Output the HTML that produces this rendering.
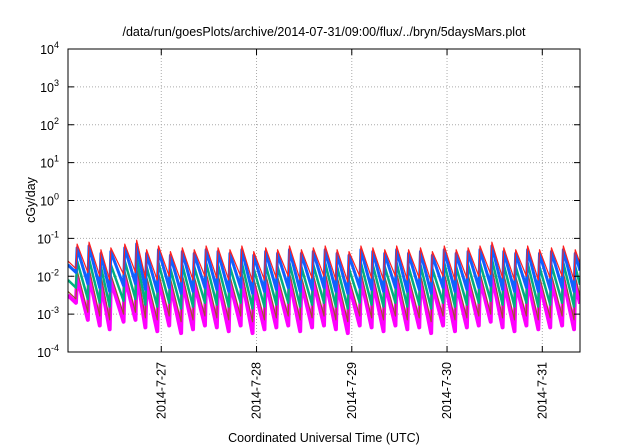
<!DOCTYPE html>
<html><head><meta charset="utf-8"><style>
body{margin:0;background:#fff;}
svg{display:block;font-family:"Liberation Sans",sans-serif;}
</style></head><body>
<svg id="chart" width="640" height="448" viewBox="0 0 640 448">
<text x="324" y="36" font-size="12.5" text-anchor="middle">/data/run/goesPlots/archive/2014-07-31/09:00/flux/../bryn/5daysMars.plot</text>
<g id="grid"></g><g id="series"></g><g id="axes"></g>
<text transform="translate(35,200) rotate(-90)" font-size="12.5" text-anchor="middle">cGy/day</text>
<text x="324" y="442" font-size="12.5" text-anchor="middle">Coordinated Universal Time (UTC)</text>
</svg>
<script>
const yDecades=[-4,-3,-2,-1,0,1,2,3,4];
const xTickDays=["2014-7-27","2014-7-28","2014-7-29","2014-7-30","2014-7-31"];
const xTickHours=[24,48,72,96,120];
const peakTimes=[2.5,5.5,8.5,11,14.5,17.5,20,23,26,29,32,35,38,41,44,47,50,53,56,59,62,65,68,71,74,77,80,83,86,89,92,95,98,101,104,107,110,113,116,119,122,125,128];
const redPeaks=[-1.15,-1.1,-1.3,-1.25,-1.15,-1.05,-1.3,-1.2,-1.35,-1.25,-1.3,-1.2,-1.25,-1.3,-1.2,-1.35,-1.25,-1.3,-1.2,-1.3,-1.25,-1.2,-1.3,-1.35,-1.2,-1.25,-1.3,-1.2,-1.3,-1.25,-1.35,-1.2,-1.3,-1.25,-1.2,-1.1,-1.25,-1.3,-1.2,-1.3,-1.25,-1.2,-1.3];
const redTroughs=[-1.9,-2.0,-2.1,-1.95,-1.9,-2.05,-2.1,-2.0,-2.15,-2.1,-2.0,-2.05,-2.1,-2.0,-2.15,-2.1,-2.05,-2.0,-2.1,-2.05,-2.0,-2.1,-2.15,-2.0,-2.05,-2.1,-2.0,-2.1,-2.05,-2.15,-2.0,-2.1,-2.05,-2.0,-1.95,-2.05,-2.1,-2.0,-2.1,-2.05,-2.0,-2.1,-2.0];
const bluePeaks=[-1.25,-1.2,-1.4,-1.35,-1.25,-1.15,-1.4,-1.3,-1.45,-1.35,-1.4,-1.3,-1.35,-1.4,-1.3,-1.45,-1.35,-1.4,-1.3,-1.4,-1.35,-1.3,-1.4,-1.45,-1.3,-1.35,-1.4,-1.3,-1.4,-1.35,-1.45,-1.3,-1.4,-1.35,-1.3,-1.2,-1.35,-1.4,-1.3,-1.4,-1.35,-1.3,-1.4];
const blueTroughs=[-2.2,-2.3,-2.4,-2.25,-2.2,-2.35,-2.4,-2.3,-2.45,-2.4,-2.3,-2.35,-2.4,-2.3,-2.45,-2.4,-2.35,-2.3,-2.4,-2.35,-2.3,-2.4,-2.45,-2.3,-2.35,-2.4,-2.3,-2.4,-2.35,-2.45,-2.3,-2.4,-2.35,-2.3,-2.25,-2.35,-2.4,-2.3,-2.4,-2.35,-2.3,-2.4,-2.3];
const greenPeaks=[-1.6,-1.55,-1.75,-1.7,-1.6,-1.5,-1.75,-1.65,-1.8,-1.7,-1.75,-1.65,-1.7,-1.75,-1.65,-1.8,-1.7,-1.75,-1.65,-1.75,-1.7,-1.65,-1.75,-1.8,-1.65,-1.7,-1.75,-1.65,-1.75,-1.7,-1.8,-1.65,-1.75,-1.7,-1.65,-1.55,-1.7,-1.75,-1.65,-1.75,-1.7,-1.65,-1.75];
const greenTroughs=[-2.6,-2.7,-2.8,-2.65,-2.6,-2.75,-2.8,-2.7,-2.85,-2.8,-2.7,-2.75,-2.8,-2.7,-2.85,-2.8,-2.75,-2.7,-2.8,-2.75,-2.7,-2.8,-2.85,-2.7,-2.75,-2.8,-2.7,-2.8,-2.75,-2.85,-2.7,-2.8,-2.75,-2.7,-2.65,-2.75,-2.8,-2.7,-2.8,-2.75,-2.7,-2.8,-2.7];
const brownPeaks=[-1.85,-1.8,-2.0,-1.95,-1.85,-1.75,-2.0,-1.9,-2.05,-1.95,-2.0,-1.9,-1.95,-2.0,-1.9,-2.05,-1.95,-2.0,-1.9,-2.0,-1.95,-1.9,-2.0,-2.05,-1.9,-1.95,-2.0,-1.9,-2.0,-1.95,-2.05,-1.9,-2.0,-1.95,-1.9,-1.8,-1.95,-2.0,-1.9,-2.0,-1.95,-1.9,-2.0];
const brownTroughs=[-2.95,-3.05,-3.15,-3.0,-2.95,-3.1,-3.15,-3.05,-3.2,-3.15,-3.05,-3.1,-3.15,-3.05,-3.2,-3.15,-3.1,-3.05,-3.15,-3.1,-3.05,-3.15,-3.2,-3.05,-3.1,-3.15,-3.05,-3.15,-3.1,-3.2,-3.05,-3.15,-3.1,-3.05,-3.0,-3.1,-3.15,-3.05,-3.15,-3.1,-3.05,-3.15,-3.05];
const magentaPeaks=[-2.0,-1.95,-2.15,-2.1,-2.0,-1.9,-2.15,-2.05,-2.2,-2.1,-2.15,-2.05,-2.1,-2.15,-2.05,-2.2,-2.1,-2.15,-2.05,-2.15,-2.1,-2.05,-2.15,-2.2,-2.05,-2.1,-2.15,-2.05,-2.15,-2.1,-2.2,-2.05,-2.15,-2.1,-2.05,-1.95,-2.1,-2.15,-2.05,-2.15,-2.1,-2.05,-2.15];
const magentaTroughs=[-3.15,-3.3,-3.4,-3.2,-3.15,-3.35,-3.45,-3.3,-3.5,-3.4,-3.3,-3.35,-3.45,-3.3,-3.5,-3.4,-3.35,-3.3,-3.45,-3.35,-3.3,-3.4,-3.5,-3.3,-3.35,-3.45,-3.3,-3.4,-3.35,-3.5,-3.3,-3.45,-3.35,-3.3,-3.2,-3.35,-3.45,-3.3,-3.4,-3.35,-3.3,-3.4,-3.3];
const seriesStart=[-1.6,-1.7,-2.1,-2.4,-2.5];

const L=68,R=580,T=49,B=352,H0=0.5,H1=129.5;
const NS="http://www.w3.org/2000/svg";
function xs(h){return L+(h-H0)/(H1-H0)*(R-L);}
function ys(lg){return B-(lg+4)/8*(B-T);}
function mk(tag,attrs,parent){const e=document.createElementNS(NS,tag);for(const k in attrs)e.setAttribute(k,attrs[k]);parent.appendChild(e);return e;}
const grid=document.getElementById('grid'),axes=document.getElementById('axes'),sg=document.getElementById('series');
yDecades.forEach(d=>{
  const y=ys(d);
  if(d>-4&&d<4){const g=mk('line',{x1:L,x2:R,y1:y,y2:y,stroke:'#aaa','stroke-dasharray':'1,2','stroke-width':1},grid);
  
  }
  const t1=mk('line',{x1:L,x2:L+6,y1:y,y2:y,stroke:'#000'},axes);
  
  
  const t2=mk('line',{x1:R,x2:R-6,y1:y,y2:y,stroke:'#000'},axes);
  
  
  const tx=mk('text',{x:L-9,y:y+5,'font-size':12.5,'text-anchor':'end'},axes);
  
  
  tx.textContent='10';
  const sp=mk('tspan',{dy:-6,'font-size':9},tx);sp.textContent=String(d);
});
xTickHours.forEach((h,i)=>{
  const x=xs(h);
  const g=mk('line',{x1:x,x2:x,y1:T,y2:B,stroke:'#aaa','stroke-dasharray':'1,2'},grid);
  
  
  const t1=mk('line',{x1:x,x2:x,y1:B,y2:B-6,stroke:'#000'},axes);
  
  
  const t2=mk('line',{x1:x,x2:x,y1:T,y2:T+6,stroke:'#000'},axes);
  
  
  const tx=mk('text',{transform:`translate(${x+4},${B+10}) rotate(-90)`,'font-size':12.5,'text-anchor':'end'},axes);
  
  
  tx.textContent=xTickDays[i];
});
const fr=mk('rect',{x:L,y:T,width:R-L,height:B-T,fill:'none',stroke:'#000','stroke-width':1},axes);


const defs=[[magentaPeaks,magentaTroughs,'#ff00ff',4,4,'magenta-series'],[brownPeaks,brownTroughs,'#a0522d',1.2,3,'brown-series'],[greenPeaks,greenTroughs,'#00b080',2.5,2,'green-series'],[bluePeaks,blueTroughs,'#1060ff',3,1,'blue-series'],[redPeaks,redTroughs,'#ff2020',1.2,0,'red-series']];
const cp=mk('clipPath',{id:'clp'},sg);mk('rect',{x:L,y:T,width:R-L,height:B-T},cp);
defs.forEach(([pk,tr,col,w,si,name])=>{
  let d=`M${xs(H0)},${ys(seriesStart[si])}`;
  peakTimes.forEach((t,i)=>{
    const prevTr=i===0?seriesStart[si]-0.2:tr[i-1];
    d+=` L${xs(t)},${ys(prevTr)} L${xs(t+0.3)},${ys(pk[i])}`;
  });
  const last=peakTimes.length-1;
  d+=` L${xs(H1)},${ys((pk[last]+tr[last])/2)}`;
  const p=mk('path',{d:d,fill:'none',stroke:col,'stroke-width':w,'stroke-linejoin':'round','clip-path':'url(#clp)'},sg);
  
  
});
</script>
</body></html>
